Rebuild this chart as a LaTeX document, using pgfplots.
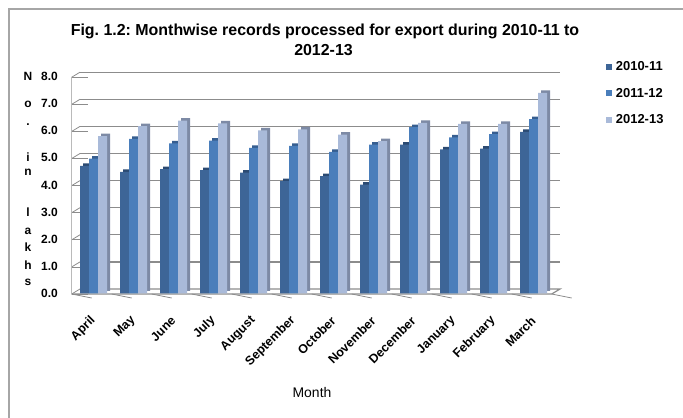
\documentclass[border=0pt]{standalone}
\usepackage{fontspec}
\setmainfont{Liberation Sans}
\usepackage{pgfplots}
\usepackage{pgfplotstable}
\pgfplotsset{compat=1.18}

\definecolor{darkfront}{HTML}{3D6597}
\definecolor{darkside}{HTML}{2B4A72}
\definecolor{midfront}{HTML}{4A7EBB}
\definecolor{midside}{HTML}{365E90}
\definecolor{litefront}{HTML}{A9BAD9}
\definecolor{liteside}{HTML}{7D8AA5}
\definecolor{gridgray}{HTML}{8C8C8C}
\definecolor{framegray}{HTML}{A6A6A6}

% records processed (lakhs), months April..March
\pgfplotstableread{
idx a    b    c
0   4.70 4.97 5.80
1   4.48 5.70 6.17
2   4.58 5.53 6.37
3   4.55 5.63 6.27
4   4.45 5.37 6.01
5   4.14 5.44 6.05
6   4.32 5.22 5.86
7   4.01 5.49 5.62
8   5.49 6.13 6.29
9   5.31 5.75 6.25
10  5.34 5.87 6.25
11  5.96 6.43 7.40
}\records

\begin{document}
\frenchspacing
\begin{tikzpicture}[x=1bp,y=1bp]
\useasboundingbox (0,0) rectangle (683,417);
% chart frame
\draw[framegray, line width=1.5bp] (9,-5) -- (9,408) -- (690,408);
% title
\node[anchor=base, font=\bfseries\fontsize{16}{19}\selectfont] at (325,382)
  {Fig. 1.2: Monthwise records processed for export during 2010-11 to};
\node[anchor=base, font=\bfseries\fontsize{16}{19}\selectfont] at (323.5,362) {2012-13};
% stacked y label
\foreach \ch/\yy in {N/76, o/103, ./121, i/157, n/171, l/212, a/230, k/247, h/265, s/281}
  \node[font=\bfseries\fontsize{12}{14}\selectfont, inner sep=0pt, text height=8.6bp, text depth=0pt]
    at (28,417-\yy) {\ch};
% x label
\node[font=\fontsize{14}{16}\selectfont] at (312,24.3) {Month};

\begin{axis}[
  at={(73.5bp,123.7bp)}, anchor=south west,
  scale only axis, width=480bp, height=216.8bp,
  xmin=-0.5, xmax=11.5, ymin=0, ymax=8,
  clip=false,
  axis line style={draw=none},
  major tick style={draw=none},
  ybar=0pt, bar width=9bp,
  ytick={0,1,...,8},
  yticklabel style={font=\bfseries\fontsize{12}{14}\selectfont, inner sep=0pt,
    /pgf/number format/.cd, fixed, fixed zerofill, precision=1, assume math mode=true},
  yticklabel shift=15.5bp,
  xtick={0,1,...,11},
  xticklabels={April,May,June,July,August,September,October,November,December,January,February,March},
  xticklabel style={font=\bfseries\fontsize{12.5}{14}\selectfont, inner sep=0pt, rotate=45, anchor=east},
  xticklabel shift=21bp,
  legend style={at={(rel axis cs:1.1088,1.0636)}, anchor=north west, draw=none, fill=none,
    inner sep=0pt, row sep=18.3bp, column sep=4bp,
    nodes={inner sep=0pt, text height=8bp, text depth=0pt, font=\bfseries\fontsize{13}{15}\selectfont}},
  legend cell align=left,
  legend image code/.code={\fill (0bp,-3bp) rectangle (6bp,3bp);},
]
% back wall gridlines and side wall
\pgfplotsinvokeforeach{1,...,8}{
  \draw[gridgray, line width=1.2bp] ([shift={(6.5bp,4.3bp)}]axis cs:-0.5,#1) -- ([shift={(6.5bp,4.3bp)}]axis cs:11.5,#1);
}
\pgfplotsinvokeforeach{0,...,8}{
  \draw[gridgray, line width=0.8bp] ([shift={(-1.8bp,-0.7bp)}]axis cs:-0.5,#1) -- ([shift={(6.5bp,4.3bp)}]axis cs:-0.5,#1);
  \draw[gridgray, line width=0.8bp] ([shift={(-1.8bp,-0.7bp)}]axis cs:-0.5,#1) -- ++(-4bp,0);
}
% floor
\draw[gridgray, line width=1.2bp] ([shift={(-1.8bp,-0.7bp)}]axis cs:-0.5,0) -- ([shift={(-1.8bp,-0.7bp)}]axis cs:11.5,0)
  -- ([shift={(6.5bp,4.3bp)}]axis cs:11.5,0) -- ([shift={(6.5bp,4.3bp)}]axis cs:-0.5,0);
\draw[gridgray!60, line width=0.8bp] ([shift={(-1.8bp,-0.7bp)}]axis cs:-0.5,0) -- ([shift={(-1.8bp,-0.7bp)}]axis cs:-0.5,8);
\pgfplotsinvokeforeach{0,...,12}{
  \draw[gridgray, line width=0.8bp] ([shift={(-1.8bp,-0.7bp)}]axis cs:#1-0.5,0) -- ++(0,-4bp);
}

% 2010-11
\addplot[fill=darkside, draw=none, bar shift=-9bp, xshift=3bp, yshift=2.5bp, forget plot] table[x=idx,y=a]{\records};
\addplot[fill=darkfront, draw=none, bar shift=-9bp] table[x=idx,y=a]{\records};
% 2011-12
\addplot[fill=midside, draw=none, bar shift=0bp, xshift=3bp, yshift=2.5bp, forget plot] table[x=idx,y=b]{\records};
\addplot[fill=midfront, draw=none, bar shift=0bp] table[x=idx,y=b]{\records};
% 2012-13
\addplot[fill=liteside, draw=none, bar shift=9bp, xshift=3bp, yshift=2.5bp, forget plot] table[x=idx,y=c]{\records};
\addplot[fill=litefront, draw=none, bar shift=9bp] table[x=idx,y=c]{\records};
\legend{2010-11,2011-12,2012-13}
\end{axis}
\end{tikzpicture}
\end{document}
